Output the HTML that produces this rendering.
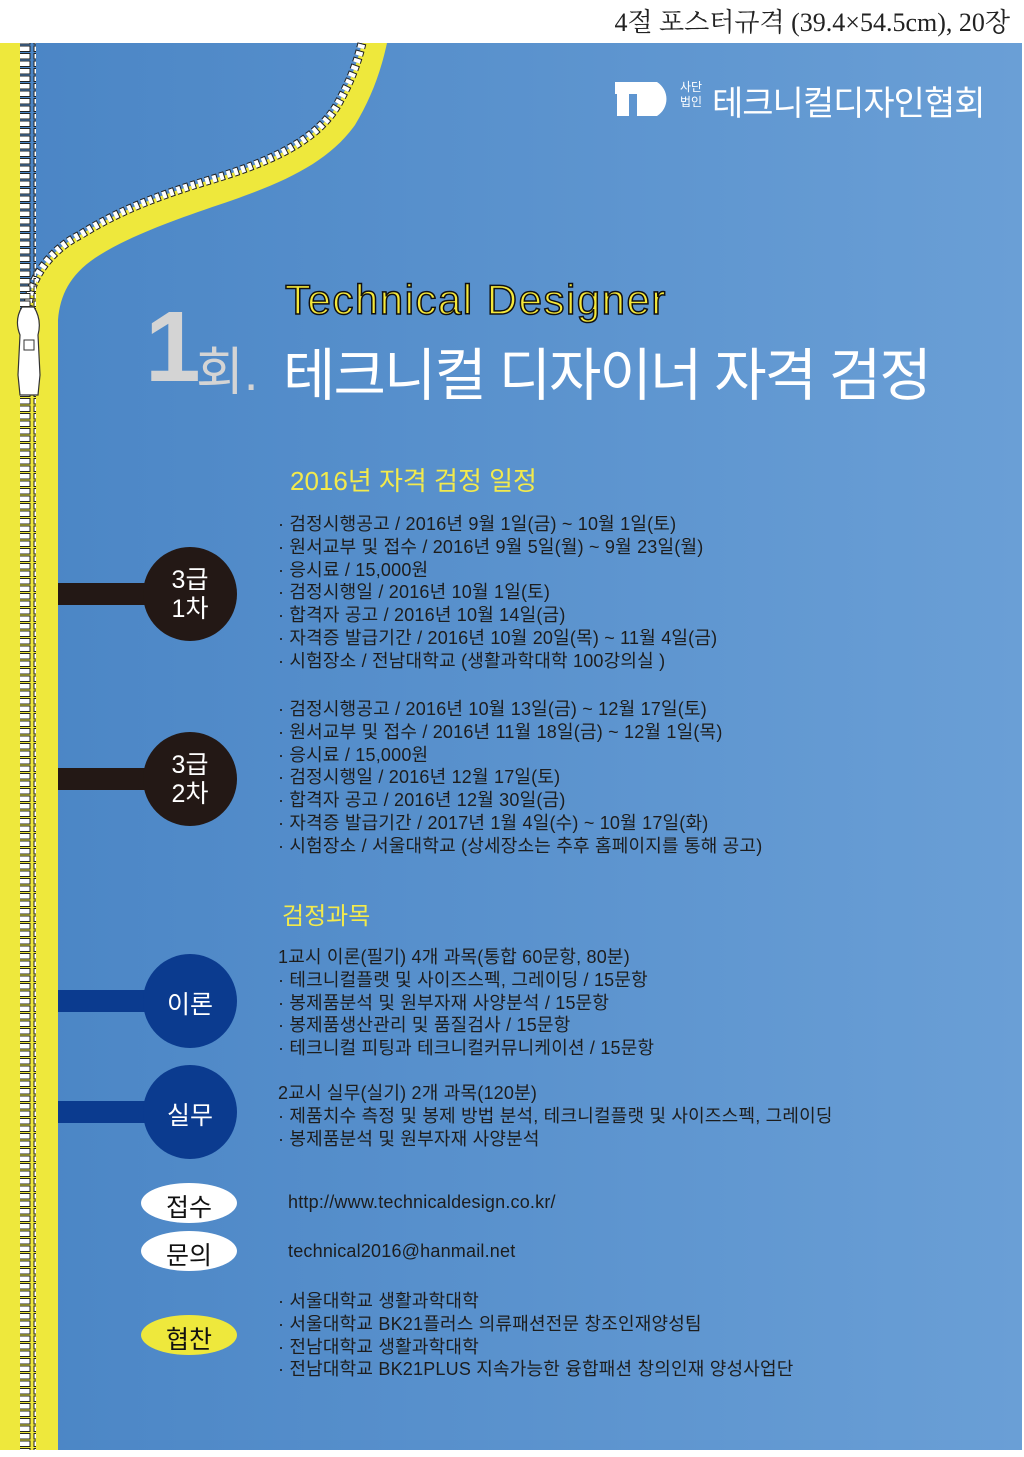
<!DOCTYPE html>
<html><head><meta charset="utf-8"><style>
body{margin:0;width:1024px;height:1457px;background:#fff;position:relative;overflow:hidden;font-family:"Liberation Sans","Noto Sans CJK KR",sans-serif}
.a{position:absolute;white-space:nowrap}
.b{position:absolute;left:278px;font-size:18px;line-height:22.8px;color:#1d1d1d;white-space:nowrap;letter-spacing:0.2px}
</style></head><body>
<div class="a" style="right:14px;top:2px;font-family:'Liberation Serif','Noto Serif CJK SC',serif;font-size:26px;color:#222">4절 포스터규격 (39.4×54.5cm), 20장</div>
<div class="a" style="left:0;top:43px;width:1022px;height:1407px;background:linear-gradient(90deg,#4a85c5,#6a9fd6)"></div>
<svg class="a" style="left:0;top:0" width="1024" height="1457">
<defs><pattern id="t" x="0" y="0" width="16" height="7.5" patternUnits="userSpaceOnUse"><rect x="2" y="1" width="12" height="5.5" fill="#fff" stroke="#222" stroke-width="1"/></pattern></defs>
<rect x="0" y="43" width="20" height="1407" fill="#eee83c"/>
<rect x="20" y="310" width="38" height="1140" fill="#eee83c"/>
<path d="M387,43 C380,75 370,100 355,125 C330,160 290,180 233,200 C180,218 130,235 95,258 C70,275 60,295 58,320 L58,330 L28,330 L28,310 C28,280 50,250 80,235 C120,210 160,195 210,180 C270,162 320,140 340,100 C352,78 358,60 362,43 Z" fill="#eee83c"/>
<path d="M28,310 C28,280 50,250 80,235 C120,210 160,195 210,180 C270,162 320,140 340,100 C352,78 358,60 362,43" fill="none" stroke="#222" stroke-width="9" stroke-dasharray="5 2.5"/>
<path d="M28,310 C28,280 50,250 80,235 C120,210 160,195 210,180 C270,162 320,140 340,100 C352,78 358,60 362,43" fill="none" stroke="#fff" stroke-width="7" stroke-dasharray="4 3.5"/>
<rect x="20" y="43" width="16" height="1407" fill="url(#t)"/>
<path d="M22,307 L34,307 Q42,320 38,335 L40,375 L38,395 L20,395 L18,375 L20,335 Q14,320 22,307Z" fill="#fff" stroke="#333" stroke-width="1.2"/>
<rect x="24" y="340" width="10" height="10" fill="none" stroke="#333"/>
<rect x="58" y="583" width="100" height="22" fill="#231815"/>
<circle cx="190" cy="594" r="47" fill="#231815"/>
<rect x="58" y="768" width="100" height="22" fill="#231815"/>
<circle cx="190" cy="779" r="47" fill="#231815"/>
<rect x="58" y="990" width="100" height="22" fill="#0b3b8f"/>
<circle cx="190" cy="1001" r="47" fill="#0b3b8f"/>
<rect x="58" y="1101" width="100" height="22" fill="#0b3b8f"/>
<circle cx="190" cy="1112" r="47" fill="#0b3b8f"/>
<ellipse cx="189" cy="1203" rx="48" ry="20" fill="#fff"/>
<ellipse cx="189" cy="1251" rx="48" ry="20" fill="#fff"/>
<ellipse cx="189" cy="1335" rx="48" ry="20" fill="#eee83c"/>
<path d="M615,82 h42 a20,20 0 0 1 0,34 h-20 v-22 h-8 v22 h-12 v-22 h-2z" fill="#fff"/>
</svg>
<div class="a" style="left:680px;top:80px;font-size:12px;line-height:15px;color:#fff">사단<br>법인</div>
<div class="a" style="left:712px;top:76px;font-size:34px;color:#fff;letter-spacing:-1px">테크니컬디자인협회</div>
<div class="a" style="left:145px;top:290px;font-size:100px;font-weight:bold;color:#d4d4d4">1</div>
<div class="a" style="left:196px;top:330px;font-size:52px;color:#d4d4d4">회.</div>
<div class="a" style="left:285px;top:276px;font-size:42px;color:#f5e83a;-webkit-text-stroke:1.5px #111;letter-spacing:1.5px">Technical Designer</div>
<div class="a" style="left:283px;top:330px;font-size:57px;color:#fff;letter-spacing:-2px">테크니컬 디자이너 자격 검정</div>
<div class="a" style="left:290px;top:461px;font-size:26px;color:#f3ea4c">2016년 자격 검정 일정</div>
<div class="a" style="left:140px;top:566px;width:100px;text-align:center;font-size:25px;line-height:29px;color:#fff">3급<br>1차</div>
<div class="a" style="left:140px;top:751px;width:100px;text-align:center;font-size:25px;line-height:29px;color:#fff">3급<br>2차</div>
<div class="a" style="left:140px;top:985px;width:100px;text-align:center;font-size:25px;color:#fff">이론</div>
<div class="a" style="left:140px;top:1096px;width:100px;text-align:center;font-size:25px;color:#fff">실무</div>
<div class="a" style="left:140px;top:1188px;width:98px;text-align:center;font-size:25px;color:#111">접수</div>
<div class="a" style="left:140px;top:1236px;width:98px;text-align:center;font-size:25px;color:#111">문의</div>
<div class="a" style="left:140px;top:1320px;width:98px;text-align:center;font-size:25px;color:#111">협찬</div>
<div class="b" style="top:513px">· 검정시행공고 / 2016년 9월 1일(금) ~ 10월 1일(토)<br>· 원서교부 및 접수 / 2016년 9월 5일(월) ~ 9월 23일(월)<br>· 응시료 / 15,000원<br>· 검정시행일 / 2016년 10월 1일(토)<br>· 합격자 공고 / 2016년 10월 14일(금)<br>· 자격증 발급기간 / 2016년 10월 20일(목) ~ 11월 4일(금)<br>· 시험장소 / 전남대학교 (생활과학대학 100강의실 )</div>
<div class="b" style="top:698px">· 검정시행공고 / 2016년 10월 13일(금) ~ 12월 17일(토)<br>· 원서교부 및 접수 / 2016년 11월 18일(금) ~ 12월 1일(목)<br>· 응시료 / 15,000원<br>· 검정시행일 / 2016년 12월 17일(토)<br>· 합격자 공고 /  2016년 12월 30일(금)<br>· 자격증 발급기간 / 2017년 1월 4일(수) ~ 10월 17일(화)<br>· 시험장소 / 서울대학교 (상세장소는 추후 홈페이지를 통해 공고)</div>
<div class="a" style="left:282px;top:896px;font-size:24px;color:#f3ea4c">검정과목</div>
<div class="b" style="top:946px">1교시 이론(필기) 4개 과목(통합 60문항, 80분)<br>· 테크니컬플랫 및 사이즈스펙, 그레이딩 / 15문항<br>· 봉제품분석 및 원부자재 사양분석 / 15문항<br>· 봉제품생산관리 및 품질검사 / 15문항<br>· 테크니컬 피팅과 테크니컬커뮤니케이션 / 15문항</div>
<div class="b" style="top:1082px">2교시 실무(실기) 2개 과목(120분)<br>· 제품치수 측정 및 봉제 방법 분석, 테크니컬플랫 및 사이즈스펙, 그레이딩<br>· 봉제품분석 및 원부자재 사양분석</div>
<div class="b" style="top:1191px;left:288px">http://www.technicaldesign.co.kr/</div>
<div class="b" style="top:1240px;left:288px">technical2016@hanmail.net</div>
<div class="b" style="top:1290px">· 서울대학교 생활과학대학<br>· 서울대학교 BK21플러스 의류패션전문 창조인재양성팀<br>· 전남대학교 생활과학대학<br>· 전남대학교 BK21PLUS 지속가능한 융합패션 창의인재 양성사업단</div>
</body></html>
